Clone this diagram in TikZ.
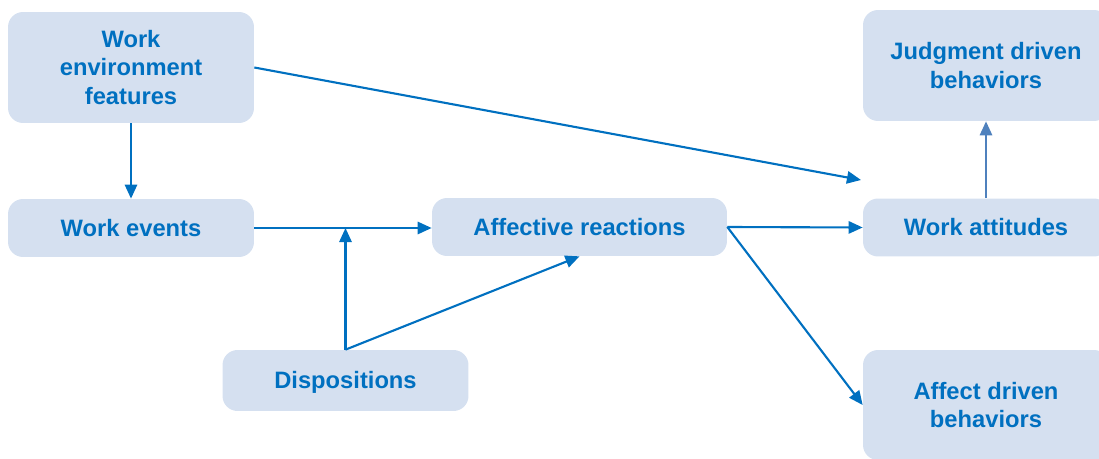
\documentclass[tikz,border=0pt]{standalone}
\usepackage{fontspec}
\setmainfont{Liberation Sans}
\usetikzlibrary{arrows.meta}
\definecolor{boxfill}{HTML}{D5E0F0}
\definecolor{boxtext}{HTML}{0070C0}
\definecolor{paleblue}{HTML}{4F81BD}

\begin{document}
\begin{tikzpicture}[x=0.02cm, y=-0.02cm,
    basebox/.style={fill=boxfill, rounded corners=0.3cm, inner sep=0pt,
      minimum width=4.92cm, align=center,
      text=boxtext, font=\fontsize{13.5}{16.2}\selectfont\bfseries},
    box/.style={basebox, minimum height=1.16cm, text height=0.95em, text depth=0pt},
    tallbox/.style={basebox, minimum height=2.22cm},
    link/.style={draw=boxtext, line width=1.2pt,
      -{Triangle[length=8pt,width=7pt]}}]

    \useasboundingbox (0,0) rectangle (1099,459);

    % Left column
    \node[tallbox] (env) at (131,67.5) {Work\\environment\\features};
    \node[box] (events) at (131,228) {Work events};
    \node[box, minimum height=1.22cm] (disp) at (345.5,380.5) {Dispositions};

    % Middle
    \node[box, minimum width=5.9cm] (affect) at (579.5,227) {Affective reactions};

    % Right column (cut at the page edge)
    \node[tallbox] (judge) at (986,65.5) {Judgment driven\\behaviors};
    \node[box] (attit) at (986,227.5) {Work attitudes};
    \node[tallbox, minimum height=2.2cm] (affdrv) at (986,405) {Affect driven\\behaviors};

    % Arrows
    \coordinate (envend) at (861,180);
    \draw[link] (env.south) -- (events.north);
    \draw[link] (env.east) -- (envend);
    \draw[link] (events.east) -- (events.east -| affect.west);
    \draw[link] (disp.north) -- (disp.north |- events.east);
    \draw[link] (disp.north) -- (affect.south);
    \draw[link] (affect.east) -- (attit.west);
    \draw[link] (affect.east) -- (affdrv.west);
    \draw[link, draw=paleblue] (attit.north) -- (judge.south);

\end{tikzpicture}
\end{document}
